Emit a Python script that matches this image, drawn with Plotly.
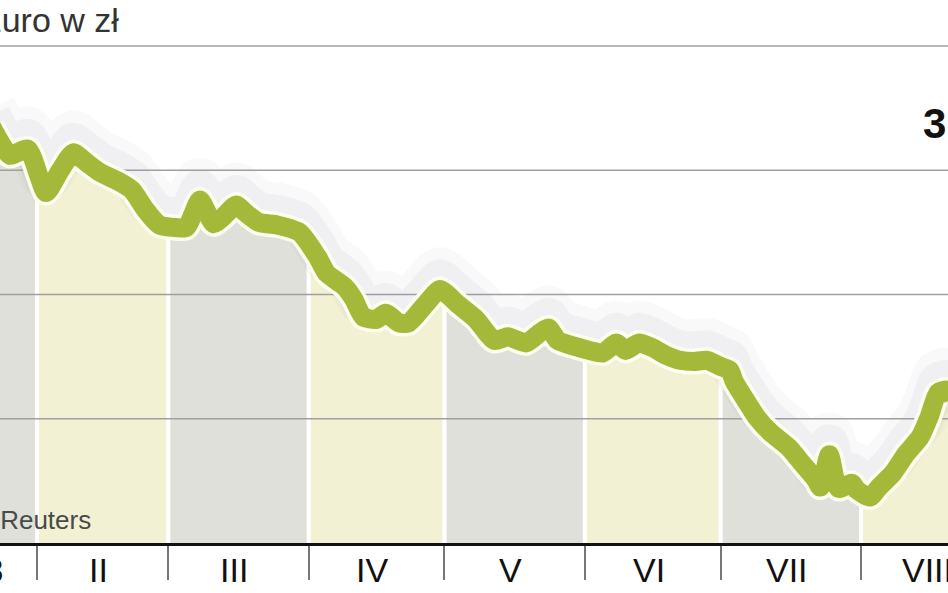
import numpy as np
import pandas as pd
import plotly.graph_objects as go

# ---------------- data ----------------
dates = [
    "2008-01-22", "2008-01-24", "2008-01-26", "2008-01-30",
    "2008-02-03", "2008-02-06", "2008-02-09", "2008-02-12", "2008-02-15", "2008-02-19",
    "2008-02-22", "2008-02-25", "2008-02-28",
    "2008-03-02", "2008-03-05", "2008-03-08", "2008-03-11", "2008-03-13", "2008-03-16",
    "2008-03-18", "2008-03-21", "2008-03-25", "2008-03-30",
    "2008-04-03", "2008-04-05", "2008-04-09", "2008-04-11", "2008-04-13", "2008-04-16",
    "2008-04-18", "2008-04-21", "2008-04-23", "2008-04-27", "2008-04-30",
    "2008-05-04", "2008-05-08", "2008-05-12", "2008-05-15", "2008-05-19", "2008-05-22",
    "2008-05-24", "2008-05-26", "2008-05-30",
    "2008-06-02", "2008-06-05", "2008-06-08", "2008-06-10", "2008-06-13", "2008-06-16",
    "2008-06-19", "2008-06-22", "2008-06-25", "2008-06-28",
    "2008-07-01", "2008-07-03", "2008-07-04", "2008-07-06", "2008-07-09", "2008-07-12",
    "2008-07-16", "2008-07-19", "2008-07-22", "2008-07-23", "2008-07-25", "2008-07-27",
    "2008-07-30", "2008-07-31",
    "2008-08-03", "2008-08-05", "2008-08-08", "2008-08-11", "2008-08-14", "2008-08-16",
    "2008-08-18", "2008-08-20", "2008-08-21",
]
values = [
    3.535, 3.522, 3.512, 3.517,
    3.482, 3.499, 3.514, 3.506, 3.498, 3.491,
    3.484, 3.468, 3.456,
    3.454, 3.454, 3.476, 3.457, 3.462, 3.472,
    3.466, 3.458, 3.456, 3.450,
    3.430, 3.417, 3.406, 3.396, 3.382, 3.380,
    3.385, 3.377, 3.377, 3.393, 3.404,
    3.392, 3.380, 3.363, 3.366, 3.361, 3.369,
    3.373, 3.363, 3.358,
    3.355, 3.353, 3.361, 3.355, 3.361, 3.357,
    3.351, 3.347, 3.346, 3.347,
    3.342, 3.339, 3.330, 3.318, 3.301, 3.289,
    3.277, 3.264, 3.251, 3.245, 3.271, 3.244,
    3.248, 3.243,
    3.237, 3.245, 3.256, 3.272, 3.285, 3.301,
    3.321, 3.323, 3.315,
]
month_starts = ["2008-01-01", "2008-02-01", "2008-03-01", "2008-04-01", "2008-05-01",
                "2008-06-01", "2008-07-01", "2008-08-01", "2008-09-01"]
month_labels = ["I", "II", "III", "IV", "V", "VI", "VII", "VIII"]
grid_values = [3.3, 3.4, 3.5, 3.6]
title_text = "Euro w zł"
source_text = "Źródło: Reuters"
last_value_text = "3,3230"
first_label_text = "I 2008"

# ---------------- styles ----------------
band_colors = ["#dfe0d9", "#f2f1d4"]
line_color = "#a4b83a"
font_family = "Liberation Sans, Arial, sans-serif"
x_range = ["2008-01-23 20:00", "2008-08-20 05:00"]
y_range = [3.2, 3.637]
gap_days = 0.45
label_pos = 0.47  # fraction of month where label sits

d = pd.to_datetime(dates)
dnum = d.astype("int64").to_numpy().astype(float)
v = np.array(values)
ms = pd.to_datetime(month_starts)

fig = go.Figure()

# month bands under the line
day_ns = 86400e9
for i in range(len(month_labels)):
    s = ms[i].value + gap_days * day_ns
    e = ms[i + 1].value - gap_days * day_ns
    inner = (dnum > s) & (dnum < e)
    xs = np.concatenate([[s], dnum[inner], [e]])
    ys = np.interp(xs, dnum, v)
    fig.add_trace(go.Scatter(
        x=pd.to_datetime(xs), y=ys, mode="lines", fill="tozeroy",
        fillcolor=band_colors[i % 2], line=dict(width=0, color=band_colors[i % 2]),
        hoverinfo="skip", showlegend=False))

# gridlines
xr = pd.to_datetime(x_range)
for g in grid_values:
    fig.add_trace(go.Scatter(x=[xr[0] - pd.Timedelta(days=5), xr[1] + pd.Timedelta(days=5)], y=[g, g],
                             mode="lines", line=dict(color="#a0a0a0", width=1.5),
                             hoverinfo="skip", showlegend=False))

# soft shadow
for w, a, off in [(50, 0.06, 0.014), (38, 0.09, 0.009)]:
    fig.add_trace(go.Scatter(x=d, y=v + off, mode="lines",
                             line=dict(color=f"rgba(150,150,175,{a})", width=w, shape="spline", smoothing=0.6),
                             hoverinfo="skip", showlegend=False))

# white outline + green line
fig.add_trace(go.Scatter(x=d, y=v, mode="lines",
                         line=dict(color="#fdfdf0", width=26, shape="spline", smoothing=0.6),
                         hoverinfo="skip", showlegend=False))
fig.add_trace(go.Scatter(x=d, y=v, mode="lines",
                         line=dict(color=line_color, width=19, shape="spline", smoothing=0.6),
                         showlegend=False))

annotations = []
for i, lab in enumerate(month_labels):
    pos = ms[i] + (ms[i + 1] - ms[i]) * label_pos
    annotations.append(dict(x=pos, y=-0.05, xref="x", yref="paper", text=lab, showarrow=False,
                            xanchor="center", yanchor="middle",
                            font=dict(size=34, color="#111", family=font_family)))
annotations.append(dict(x=0.006, y=-0.05, xref="paper", yref="paper", text=first_label_text,
                        showarrow=False, xanchor="right", yanchor="middle",
                        font=dict(size=34, color="#111", family=font_family)))
annotations.append(dict(x=-0.024, y=0.963, xref="paper", yref="paper", text=title_text,
                        showarrow=False, xanchor="left", yanchor="middle",
                        font=dict(size=34, color="#333", family=font_family)))
annotations.append(dict(x=0.098, y=0.043, xref="paper", yref="paper", text=source_text,
                        showarrow=False, xanchor="right", yanchor="middle",
                        font=dict(size=26, color="#4a4a4a", family=font_family)))
annotations.append(dict(x=0.971, y=0.773, xref="paper", yref="paper", text=f"<b>{last_value_text}</b>",
                        showarrow=False, xanchor="left", yanchor="middle",
                        font=dict(size=42, color="#111", family=font_family)))

fig.update_layout(
    width=948, height=593,
    margin=dict(l=0, r=0, t=0, b=50),
    paper_bgcolor="white", plot_bgcolor="white",
    showlegend=False,
    annotations=annotations,
    xaxis=dict(type="date", range=x_range, tickmode="array", tickvals=month_starts,
               showticklabels=False, ticks="outside", ticklen=34, tickwidth=1.5, tickcolor="#777",
               showgrid=False, zeroline=False, showline=True, linecolor="#111", linewidth=3,
               layer="above traces", fixedrange=True),
    yaxis=dict(range=y_range, showgrid=False, zeroline=False, showticklabels=False,
               showline=False, ticks="", fixedrange=True),
)

fig.write_html("out.html", config={"displayModeBar": False},
               post_script="document.body.style.margin='0';document.body.style.overflow='hidden';")
